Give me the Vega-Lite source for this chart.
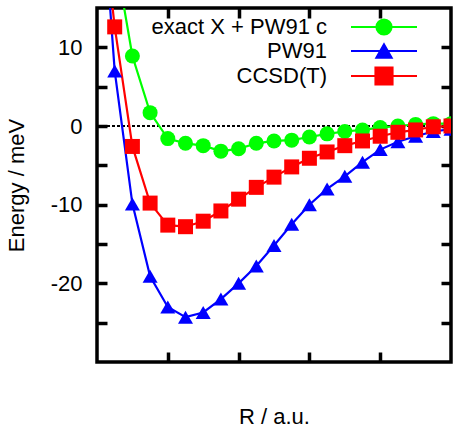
{
  "$schema": "https://vega.github.io/schema/vega-lite/v6.json",
  "width": 354,
  "height": 354,
  "autosize": "none",
  "padding": {"left": 97, "top": 8, "right": 4, "bottom": 67},
  "background": "white",
  "config": {
    "font": "Liberation Sans",
    "view": {"stroke": "black", "strokeWidth": 3.5},
    "axis": {
      "domain": false,
      "grid": false,
      "tickColor": "black",
      "tickWidth": 3.5,
      "tickSize": -10,
      "labelFont": "Liberation Sans",
      "labelFontSize": 22,
      "labelColor": "black",
      "titleFont": "Liberation Sans",
      "titleFontSize": 22,
      "titleFontWeight": "normal",
      "titleColor": "black"
    },
    "legend": {
      "orient": "none",
      "legendX": 276,
      "legendY": 8,
      "padding": 0,
      "labelFont": "Liberation Sans",
      "labelFontSize": 22,
      "labelColor": "black",
      "labelAlign": "right",
      "labelOffset": -68,
      "labelLimit": 0,
      "symbolSize": 225,
      "rowPadding": 1
    }
  },
  "data": {
    "values": [
      {"method": "exact X + PW91 c", "R": 0.25, "E": 22.0},
      {"method": "exact X + PW91 c", "R": 0.5, "E": 8.9},
      {"method": "exact X + PW91 c", "R": 0.75, "E": 1.7},
      {"method": "exact X + PW91 c", "R": 1.0, "E": -1.6},
      {"method": "exact X + PW91 c", "R": 1.25, "E": -2.2},
      {"method": "exact X + PW91 c", "R": 1.5, "E": -2.5},
      {"method": "exact X + PW91 c", "R": 1.75, "E": -3.2},
      {"method": "exact X + PW91 c", "R": 2.0, "E": -2.9},
      {"method": "exact X + PW91 c", "R": 2.25, "E": -2.2},
      {"method": "exact X + PW91 c", "R": 2.5, "E": -1.9},
      {"method": "exact X + PW91 c", "R": 2.75, "E": -1.8},
      {"method": "exact X + PW91 c", "R": 3.0, "E": -1.4},
      {"method": "exact X + PW91 c", "R": 3.25, "E": -1.0},
      {"method": "exact X + PW91 c", "R": 3.5, "E": -0.7},
      {"method": "exact X + PW91 c", "R": 3.75, "E": -0.5},
      {"method": "exact X + PW91 c", "R": 4.0, "E": -0.2},
      {"method": "exact X + PW91 c", "R": 4.25, "E": 0.0},
      {"method": "exact X + PW91 c", "R": 4.5, "E": 0.2},
      {"method": "exact X + PW91 c", "R": 4.75, "E": 0.3},
      {"method": "exact X + PW91 c", "R": 5.0, "E": 0.3},
      {"method": "PW91", "R": 0.0, "E": 38.0},
      {"method": "PW91", "R": 0.25, "E": 7.0},
      {"method": "PW91", "R": 0.5, "E": -9.9},
      {"method": "PW91", "R": 0.75, "E": -19.1},
      {"method": "PW91", "R": 1.0, "E": -23.0},
      {"method": "PW91", "R": 1.25, "E": -24.3},
      {"method": "PW91", "R": 1.5, "E": -23.7},
      {"method": "PW91", "R": 1.75, "E": -22.0},
      {"method": "PW91", "R": 2.0, "E": -20.0},
      {"method": "PW91", "R": 2.25, "E": -17.8},
      {"method": "PW91", "R": 2.5, "E": -15.2},
      {"method": "PW91", "R": 2.75, "E": -12.5},
      {"method": "PW91", "R": 3.0, "E": -10.0},
      {"method": "PW91", "R": 3.25, "E": -8.0},
      {"method": "PW91", "R": 3.5, "E": -6.4},
      {"method": "PW91", "R": 3.75, "E": -4.6},
      {"method": "PW91", "R": 4.0, "E": -3.0},
      {"method": "PW91", "R": 4.25, "E": -2.0},
      {"method": "PW91", "R": 4.5, "E": -1.3},
      {"method": "PW91", "R": 4.75, "E": -0.7},
      {"method": "PW91", "R": 5.0, "E": -0.4},
      {"method": "CCSD(T)", "R": 0.0, "E": 33.0},
      {"method": "CCSD(T)", "R": 0.25, "E": 12.6},
      {"method": "CCSD(T)", "R": 0.5, "E": -2.6},
      {"method": "CCSD(T)", "R": 0.75, "E": -9.8},
      {"method": "CCSD(T)", "R": 1.0, "E": -12.6},
      {"method": "CCSD(T)", "R": 1.25, "E": -12.8},
      {"method": "CCSD(T)", "R": 1.5, "E": -12.1},
      {"method": "CCSD(T)", "R": 1.75, "E": -10.8},
      {"method": "CCSD(T)", "R": 2.0, "E": -9.3},
      {"method": "CCSD(T)", "R": 2.25, "E": -7.8},
      {"method": "CCSD(T)", "R": 2.5, "E": -6.5},
      {"method": "CCSD(T)", "R": 2.75, "E": -5.2},
      {"method": "CCSD(T)", "R": 3.0, "E": -4.1},
      {"method": "CCSD(T)", "R": 3.25, "E": -3.3},
      {"method": "CCSD(T)", "R": 3.5, "E": -2.5},
      {"method": "CCSD(T)", "R": 3.75, "E": -1.9},
      {"method": "CCSD(T)", "R": 4.0, "E": -1.3},
      {"method": "CCSD(T)", "R": 4.25, "E": -0.8},
      {"method": "CCSD(T)", "R": 4.5, "E": -0.5},
      {"method": "CCSD(T)", "R": 4.75, "E": -0.1},
      {"method": "CCSD(T)", "R": 5.0, "E": 0.0}
    ]
  },
  "layer": [
    {
      "mark": {"type": "rule", "strokeDash": [3, 2], "strokeWidth": 1, "color": "black"},
      "encoding": {
        "x": {"datum": 0, "type": "quantitative", "scale": {"domain": [0, 5]},
              "axis": {"orient": "top", "values": [1, 2, 3, 4], "labels": false, "title": null}},
        "x2": {"datum": 5},
        "y": {"datum": 0, "type": "quantitative", "scale": {"domain": [-30, 15]},
              "axis": {"orient": "right", "values": [-25, -20, -15, -10, -5, 0, 5, 10], "labels": false, "title": null}}
      }
    },
    {
      "mark": {"type": "line", "strokeWidth": 2.2, "clip": true},
      "encoding": {
        "x": {"field": "R", "type": "quantitative", "scale": {"domain": [0, 5]},
              "axis": {"orient": "bottom", "values": [1, 2, 3, 4], "labels": false, "title": "R / a.u.", "titlePadding": 43}},
        "y": {"field": "E", "type": "quantitative", "scale": {"domain": [-30, 15]},
              "axis": {"orient": "left", "values": [-25, -20, -15, -10, -5, 0, 5, 10],
                       "labelExpr": "datum.value % 10 === 0 ? '' + datum.value : ''",
                       "labelPadding": 25, "title": "Energy / meV", "titlePadding": 22}},
        "color": {
          "field": "method", "type": "nominal",
          "scale": {"domain": ["exact X + PW91 c", "PW91", "CCSD(T)"], "range": ["#00ff00", "#0000ff", "#ff0000"]},
          "legend": {
            "title": null,
            "encode": {"symbols": {"update": {
              "shape": {"signal": "datum.value === 'PW91' ? 'M-4.4,0H4.4M0,-0.87L1,0.87L-1,0.87Z' : datum.value === 'CCSD(T)' ? 'M-4.4,0H4.4M-1.13,-1.13H1.13V1.13H-1.13Z' : 'M-4.4,0H4.4M1,0A1,1,0,1,1,-1,0A1,1,0,1,1,1,0Z'"},
              "fill": {"scale": "color", "field": "value"},
              "strokeWidth": {"value": 2.2},
              "opacity": {"value": 1},
              "size": {"value": 225}
            }}}
          }
        }
      }
    },
    {
      "mark": {"type": "point", "filled": true, "opacity": 1, "clip": true},
      "encoding": {
        "x": {"field": "R", "type": "quantitative", "axis": null},
        "y": {"field": "E", "type": "quantitative", "axis": null},
        "color": {"field": "method", "type": "nominal", "legend": null},
        "shape": {
          "field": "method", "type": "nominal",
          "scale": {"domain": ["exact X + PW91 c", "PW91", "CCSD(T)"], "range": ["circle", "triangle-up", "square"]},
          "legend": null
        },
        "size": {"field": "method", "type": "nominal",
                 "scale": {"domain": ["exact X + PW91 c", "PW91", "CCSD(T)"], "range": [225, 225, 289]}, "legend": null}
      }
    }
  ],
  "resolve": {
    "axis": {"x": "independent", "y": "independent"},
    "legend": {"color": "independent"}
  }
}
